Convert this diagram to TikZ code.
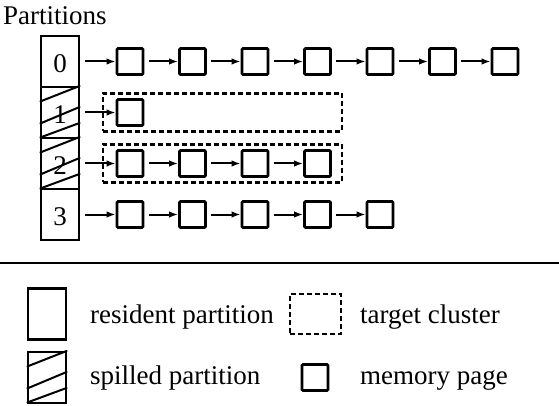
\documentclass[tikz,border=0pt]{standalone}
\usepackage{fontspec}
\setmainfont{Liberation Serif}
\usetikzlibrary{arrows.meta,calc}

\tikzset{
  part/.style={draw,line width=2.6pt,minimum width=38pt,minimum height=51pt,inner sep=0pt},
  page/.style={draw,line width=2.7pt,minimum size=26pt,inner sep=0pt,rounded corners=1pt},
  cluster/.style={draw,line width=2.1pt,dash pattern=on 5pt off 3pt,minimum width=239pt,minimum height=38pt,inner sep=0pt},
  link/.style={->,line width=2pt,shorten <=4.5pt},
  lbl/.style={anchor=base west,inner sep=0pt},
}

% diagonal hatching inside a spilled partition box
\newcommand{\spillhatch}[1]{%
  \begin{scope}
    \clip (#1.north west) rectangle (#1.south east);
    \foreach \lft/\rgt in {16/0,38/21,52/37}{
      \draw[line width=2pt] ($(#1.north west)+(0,\lft)$) -- ($(#1.north east)+(0,\rgt)$);
    }
  \end{scope}}

\begin{document}
\begin{tikzpicture}[x=1pt,y=-1pt,>={Latex[length=9pt,width=6.5pt]},font=\fontsize{27}{30}\selectfont]
  \useasboundingbox (0,0) rectangle (559,406);
  \node[lbl] (title) at (3,25) {Partitions};

  % target clusters go underneath the page lists
  \node[cluster] (cl1) at (222.5,112.5) {};
  \node[cluster] (cl2) at (222.5,163.5) {};

  % partition table with its page lists
  \foreach \len[count=\r from 0] in {7,1,4,5}{
    \pgfmathsetmacro\ypos{61.5+51*\r}
    \node[part] (p\r) at (60,\ypos) {};
    \foreach \k in {1,...,\len}{
      \node[page] (pg\r-\k) at ({130+62.5*(\k-1)},\ypos) {};
    }
    \draw[link] (p\r) -- (pg\r-1);
    \ifnum\len>1
      \foreach \k in {2,...,\len}{
        \pgfmathtruncatemacro\prev{\k-1}
        \draw[link] (pg\r-\prev) -- (pg\r-\k);
      }
    \fi
  }
  \spillhatch{p1}
  \spillhatch{p2}
  \foreach \r in {0,...,3}{
    \node at ($(p\r)+(0,2)$) {\r};
  }

  \draw[line width=2pt] (0,263) -- (559,263);

  % legend
  \node[part] (lres) at (47,314) {};
  \node[part] (lspill) at (47,377.5) {};
  \spillhatch{lspill}
  \node[cluster,minimum width=51pt,minimum height=40pt] (lclus) at (315.5,314) {};
  \node[page] (lpage) at (315,377.5) {};
  \node[lbl] (tres) at (90,323) {resident partition};
  \node[lbl] (tspill) at (90,384) {spilled partition};
  \node[lbl] (tclus) at (360,323) {target cluster};
  \node[lbl] (tpage) at (360,384) {memory page};
\end{tikzpicture}
\end{document}
